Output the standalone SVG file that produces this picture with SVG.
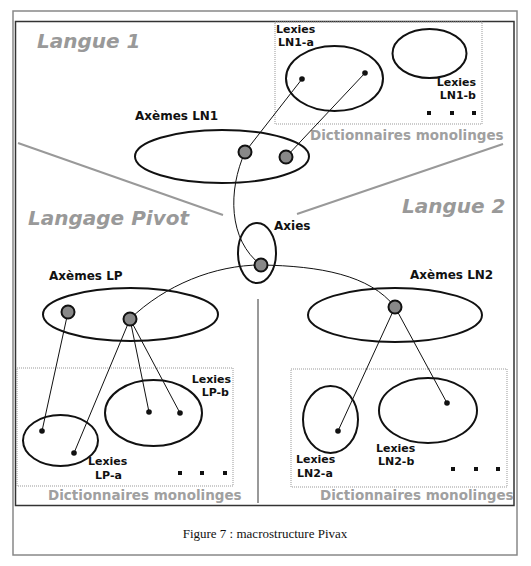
<svg xmlns="http://www.w3.org/2000/svg" width="531" height="566" viewBox="0 0 531 566">
<style>
.lbl{font-family:"DejaVu Sans",sans-serif;font-weight:bold;font-size:11px;fill:#111}
.ax{font-family:"DejaVu Sans",sans-serif;font-weight:bold;font-size:12px;fill:#111}
.big{font-family:"DejaVu Sans",sans-serif;font-weight:bold;font-style:italic;font-size:20px;fill:#999}
.dict{font-family:"DejaVu Sans",sans-serif;font-weight:bold;font-size:13.5px;fill:#a0a0a0}
.ell{fill:none;stroke:#111;stroke-width:2}
.node{fill:#888;stroke:#111;stroke-width:2}
.dot{fill:#111}
.box{fill:none;stroke:#999;stroke-width:1;stroke-dasharray:1 1}
.div{stroke:#999;stroke-width:2;fill:none}
.cn{stroke:#111;stroke-width:1;fill:none}
.sq{fill:#111}
</style>
<rect x="0" y="0" width="531" height="566" fill="#fff"/>
<rect x="13" y="11" width="504" height="544" fill="none" stroke="#888" stroke-width="1.5"/>
<rect x="15.5" y="21.5" width="498.5" height="484" fill="none" stroke="#333" stroke-width="1.5"/>
<text x="265" y="538" text-anchor="middle" font-family="Liberation Serif,serif" font-size="13" fill="#111">Figure 7 : macrostructure Pivax</text>

<g id="zones">
<text class="big" x="37" y="48">Langue 1</text>
<text class="big" x="28" y="225">Langage Pivot</text>
<text class="big" x="402" y="213">Langue 2</text>
<line class="div" x1="18" y1="143" x2="223" y2="215"/>
<line class="div" x1="503" y1="144" x2="297" y2="214"/>
<line class="div" x1="258" y1="299" x2="258" y2="503"/>
</g>

<g id="dict-ln1">
<rect class="box" x="275" y="22" width="207" height="102"/>
<text class="dict" x="310" y="140">Dictionnaires monolinges</text>
<rect class="sq" x="427" y="111" width="4" height="4"/>
<rect class="sq" x="450" y="111" width="4" height="4"/>
<rect class="sq" x="472" y="111" width="4" height="4"/>
</g>
<g id="lexies-ln1-a">
<ellipse class="ell" cx="334.5" cy="78.5" rx="48.5" ry="32.5"/>
<text class="lbl" x="276" y="33">Lexies</text>
<text class="lbl" x="278" y="46">LN1-a</text>
</g>
<g id="lexies-ln1-b">
<ellipse class="ell" cx="429.5" cy="53.5" rx="37" ry="24.5"/>
<text class="lbl" x="476" y="86" text-anchor="end">Lexies</text>
<text class="lbl" x="476" y="99" text-anchor="end">LN1-b</text>
</g>
<g id="axemes-ln1">
<ellipse class="ell" cx="222" cy="156.5" rx="87" ry="26.5"/>
<text class="ax" x="135" y="120">Axèmes LN1</text>
</g>
<g id="axies">
<ellipse class="ell" cx="257" cy="253" rx="19" ry="30"/>
<text class="ax" x="274" y="230">Axies</text>
</g>
<g id="axemes-lp">
<ellipse class="ell" cx="130.5" cy="314.5" rx="87.5" ry="26.5"/>
<text class="ax" x="49" y="280">Axèmes LP</text>
</g>
<g id="axemes-ln2">
<ellipse class="ell" cx="395" cy="315" rx="87" ry="27"/>
<text class="ax" x="410" y="279">Axèmes LN2</text>
</g>

<g id="dict-lp">
<rect class="box" x="17" y="368" width="216" height="118"/>
<text class="dict" x="48" y="500">Dictionnaires monolinges</text>
<rect class="sq" x="178" y="471" width="4" height="4"/>
<rect class="sq" x="200" y="471" width="4" height="4"/>
<rect class="sq" x="223" y="471" width="4" height="4"/>
</g>
<g id="lexies-lp-a">
<ellipse class="ell" cx="60.5" cy="440.5" rx="37.5" ry="25.5"/>
<text class="lbl" x="88" y="465">Lexies</text>
<text class="lbl" x="95" y="479">LP-a</text>
</g>
<g id="lexies-lp-b">
<ellipse class="ell" cx="153.5" cy="413" rx="48.5" ry="33"/>
<text class="lbl" x="231" y="383" text-anchor="end">Lexies</text>
<text class="lbl" x="229" y="396" text-anchor="end">LP-b</text>
</g>

<g id="dict-ln2">
<rect class="box" x="291" y="369" width="216" height="118"/>
<text class="dict" x="320" y="500">Dictionnaires monolinges</text>
<rect class="sq" x="451" y="467" width="4" height="4"/>
<rect class="sq" x="474" y="467" width="4" height="4"/>
<rect class="sq" x="496" y="467" width="4" height="4"/>
</g>
<g id="lexies-ln2-a">
<ellipse class="ell" cx="330.5" cy="419.5" rx="27.5" ry="33.5"/>
<text class="lbl" x="296" y="463">Lexies</text>
<text class="lbl" x="297" y="477">LN2-a</text>
</g>
<g id="lexies-ln2-b">
<ellipse class="ell" cx="428" cy="410.5" rx="49" ry="32.5"/>
<text class="lbl" x="376" y="452">Lexies</text>
<text class="lbl" x="378" y="465">LN2-b</text>
</g>

<g id="connectors">
<line class="cn" x1="245" y1="152" x2="302" y2="79"/>
<line class="cn" x1="286" y1="157" x2="365" y2="73"/>
<path class="cn" d="M245,152 C228,190 228,240 261,265"/>
<path class="cn" d="M261,265 C215,265 165,285 130,319"/>
<path class="cn" d="M261,265 C320,266 370,275 395,307"/>
<line class="cn" x1="68" y1="312" x2="42" y2="431"/>
<line class="cn" x1="130" y1="319" x2="74" y2="453"/>
<line class="cn" x1="130" y1="319" x2="149" y2="412"/>
<line class="cn" x1="130" y1="319" x2="180" y2="413"/>
<line class="cn" x1="395" y1="307" x2="338" y2="431"/>
<line class="cn" x1="395" y1="307" x2="447" y2="403"/>
</g>

<g id="points">
<circle class="node" cx="245" cy="152" r="6.5"/>
<circle class="node" cx="286" cy="157" r="6.5"/>
<circle class="node" cx="261" cy="265" r="6.5"/>
<circle class="node" cx="68" cy="312" r="6.5"/>
<circle class="node" cx="130" cy="319" r="6.5"/>
<circle class="node" cx="395" cy="307" r="6.5"/>
<circle class="dot" cx="302" cy="79" r="2.8"/>
<circle class="dot" cx="365" cy="73" r="2.8"/>
<circle class="dot" cx="42" cy="431" r="2.8"/>
<circle class="dot" cx="74" cy="453" r="2.8"/>
<circle class="dot" cx="149" cy="412" r="2.8"/>
<circle class="dot" cx="180" cy="413" r="2.8"/>
<circle class="dot" cx="338" cy="431" r="2.8"/>
<circle class="dot" cx="447" cy="403" r="2.8"/>
</g>
</svg>
